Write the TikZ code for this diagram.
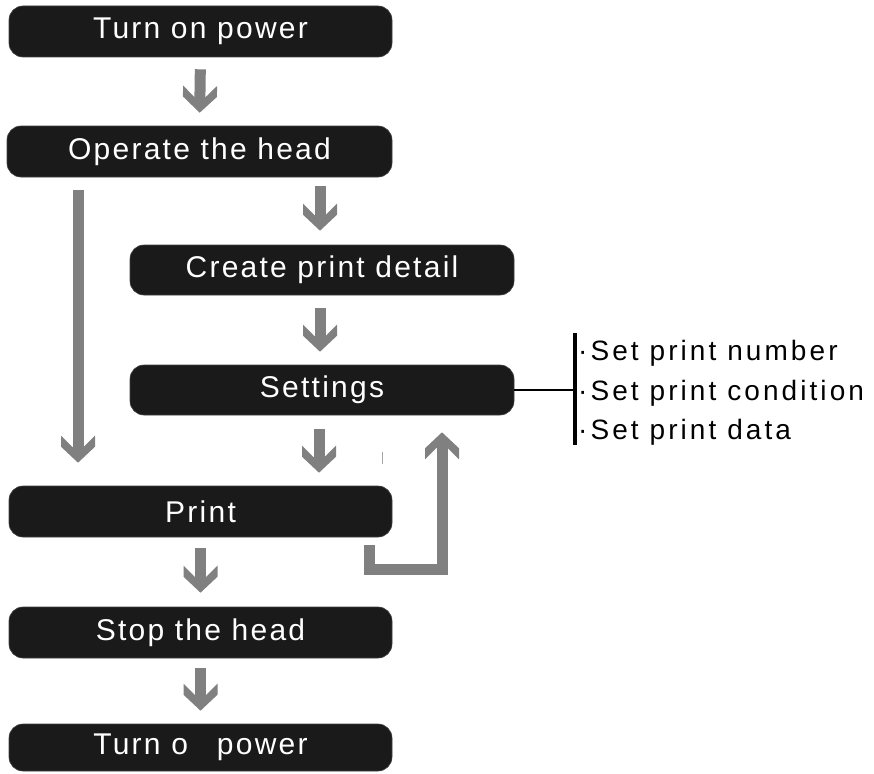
\documentclass[tikz,border=0pt]{standalone}
\usepackage{fontspec}
\setmainfont{Liberation Sans}
\newfontfamily\boxfont[LetterSpace=7.5]{Liberation Sans}
\newfontfamily\sidefont[LetterSpace=11]{Liberation Sans}
\usetikzlibrary{arrows.meta}
\definecolor{boxblack}{HTML}{1A1A1A}
\definecolor{arrowgray}{HTML}{808080}

\pgfdeclarearrow{
  name=Chev,
  setup code={
    \pgfarrowssettipend{0pt}
    \pgfarrowssetlineend{-15pt}
    \pgfarrowssetbackend{-27pt}
    \pgfarrowshullpoint{0pt}{0pt}
    \pgfarrowsupperhullpoint{-27pt}{17pt}
  },
  drawing code={
    \pgfsetfillcolor{arrowgray}
    \pgfpathmoveto{\pgfpointorigin}
    \pgfpathlineto{\pgfpoint{-16pt}{17pt}}
    \pgfpathlineto{\pgfpoint{-27pt}{17pt}}
    \pgfpathlineto{\pgfpoint{-15.5pt}{5.5pt}}
    \pgfpathlineto{\pgfpoint{-15.5pt}{-5.5pt}}
    \pgfpathlineto{\pgfpoint{-27pt}{-17pt}}
    \pgfpathlineto{\pgfpoint{-16pt}{-17pt}}
    \pgfpathclose
    \pgfusepathqfill
  }
}

\tikzset{
  box/.style={fill=boxblack, draw=black!75, line width=0.6pt, rounded corners=14pt,
    minimum width=384pt, minimum height=51pt, inner sep=0pt, text=white,
    font=\boxfont\fontsize{30}{36}\selectfont},
  flow/.style={draw=arrowgray, line width=11pt, line join=miter, -{Chev}},
  sidetext/.style={anchor=west, inner sep=0pt, font=\sidefont\fontsize{28}{32}\selectfont},
}

\begin{document}
\begin{tikzpicture}[x=1pt,y=-1pt]
\useasboundingbox (0,0) rectangle (874,773);

\node[box, minimum width=383pt] (b1) at (200.5,31.5) {Turn on power};
\node[box, minimum width=385pt] (b2) at (199.5,151.5) {Operate the head};
\node[box, minimum height=50pt] (b3) at (322,270) {Create print detail};
\node[box, minimum height=50pt] (b4) at (322,390) {Settings};
\node[box, minimum width=383pt] (b5) at (200.5,511.5) {Print};
\node[box, minimum width=383pt] (b6) at (200.5,632.5) {Stop the head};
\node[box, minimum width=383pt, minimum height=47pt] (b7) at (200.5,747.5) {Turn o\hphantom{ff} power};

% straight arrows
\draw[flow, shorten <=12pt, shorten >=13pt] (b1.south) -- (b2.north);
\draw[flow, shorten <=9pt, shorten >=14pt] ([xshift=-2pt]b3.north |- b2.south) -- ([xshift=-2pt]b3.north);
\draw[flow, shorten <=13pt, shorten >=13pt] ([xshift=-2pt]b3.south) -- ([xshift=-2pt]b4.north);
\draw[flow, shorten <=14pt, shorten >=13pt] ([xshift=-3pt]b4.south) -- ([xshift=-3pt]b4.south |- b5.north);
\draw[flow, shorten <=11pt, shorten >=14pt] (b5.south) -- (b6.north);
\draw[flow, shorten <=10pt, shorten >=13pt] (b6.south) -- (b7.north);

% long bypass arrow
\draw[flow, shorten <=13pt, shorten >=23pt] (b2.south -| 78,0) -- (b5.north -| 78,0);

% loop-back arrow
\coordinate (loopA) at (369,569.5);
\coordinate (loopB) at (442,569.5);
\draw[flow, shorten <=8pt, shorten >=17pt] (b5.south -| loopA) -- (loopA) -- (loopB) -- (b4.south -| loopB);

% small tick
\draw[arrowgray!70, line width=1pt] (382,452) -- (382,464);

% settings details
\coordinate (barmid) at (573,390);
\draw[black, line width=1.1pt] (b4.east) -- (barmid);
\fill[black] (573,333) rectangle (577,445);
\node[sidetext] (s1) at (578,353) {·Set print number};
\node[sidetext] (s2) at (578,393) {·Set print condition};
\node[sidetext] (s3) at (578,432) {·Set print data};
\end{tikzpicture}
\end{document}
